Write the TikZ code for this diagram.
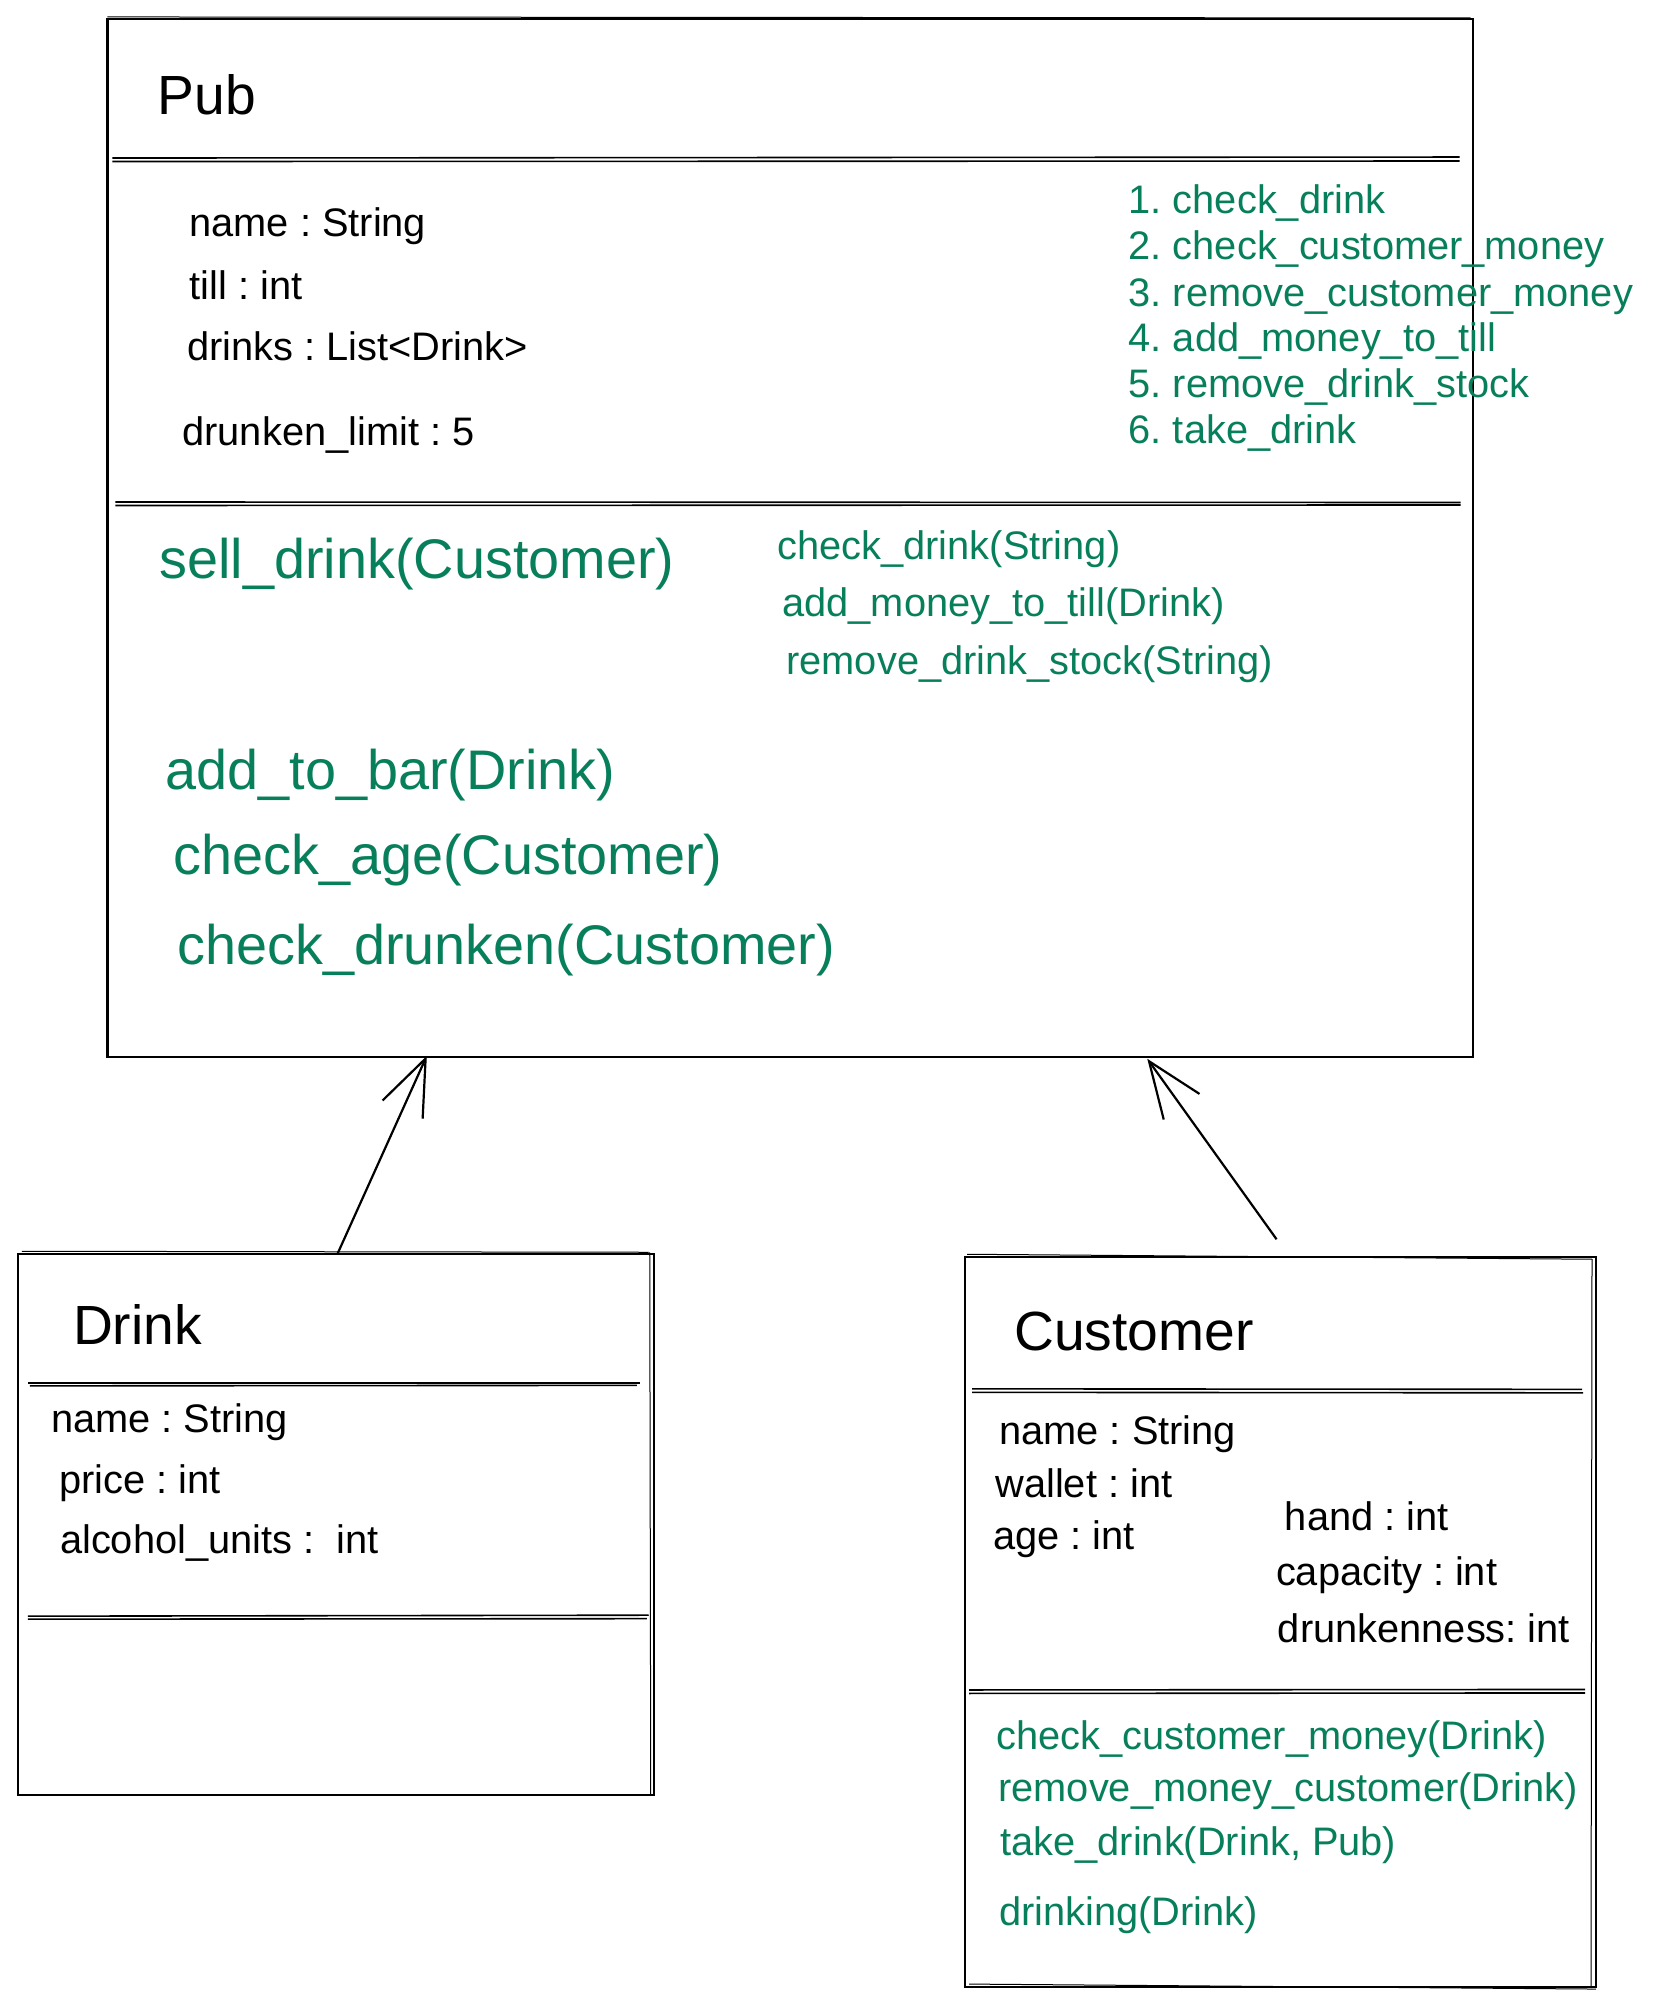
\documentclass[tikz,border=0pt]{standalone}
\usepackage{fontspec}
\setmainfont{Liberation Sans}
\usetikzlibrary{arrows.meta,calc}
\definecolor{meth}{HTML}{087F5B}
\frenchspacing
\begin{document}
\begin{tikzpicture}[x=0.4975pt,y=-0.4985pt,
  box/.style={draw=black, line width=1.1pt, inner sep=0pt, outer sep=0pt},
  sep/.style={line width=0.8pt},
  sketch/.style={line width=0.5pt},
  txt/.style={anchor=base west, inner sep=0pt, font=\fontsize{19.9pt}{23pt}\selectfont},
  grn/.style={txt, text=meth},
  title/.style={anchor=base west, inner sep=0pt, font=\fontsize{27.6pt}{32pt}\selectfont},
  big/.style={anchor=base west, inner sep=0pt, text=meth, font=\fontsize{27.9pt}{32pt}\selectfont},
  assoc/.style={line width=1.1pt, -{Straight Barb[length=28pt,width=22pt,line width=1.1pt]}}
]
\useasboundingbox (0,0) rectangle (1662,2010);

% ---------- boxes ----------
\node[box, anchor=north west, minimum width=682.6pt, minimum height=518.9pt] (pub) at (108,19) {};
\node[box, anchor=north west, minimum width=317.9pt, minimum height=270.2pt] (drink) at (18,1258) {};
\node[box, anchor=north west, minimum width=315.4pt, minimum height=364.9pt] (cust) at (970,1261) {};

% sketchy second strokes
\draw[sketch] (108,17) -- (1478,18);
\draw[sketch] (22,1255) -- (652,1256);
\draw[sketch] (653,1256) -- (654,1801);
\draw[sketch] (972,1258) -- (1600,1263);
\draw[sketch] (1600,1263) -- (1599,1994);
\draw[sketch] (974,1990) -- (1604,1995);

% ---------- separators ----------
\draw[sep] (113,158.5) -- (1467,157.5);
\draw[sep] (113,162) -- (1467,161.5);
\draw[sep] (116,503.5) -- (1468,504);
\draw[sep] (116,507) -- (1468,506.5);
\draw[sep] (28,1387) -- (643,1387);
\draw[sep] (30,1390) -- (640,1389.5);
\draw[sep] (28,1621) -- (652,1620);
\draw[sep] (28,1624) -- (650,1623.5);
\draw[sep] (977,1393) -- (1590,1393.5);
\draw[sep] (977,1396.5) -- (1591,1397);
\draw[sep] (974,1695) -- (1593,1694.5);
\draw[sep] (974,1698.5) -- (1593,1698);

% ---------- Pub ----------
\node[title] (pubt) at (158,115) {Pub};
\node[txt] (pa1) at (190,237) {name : String};
\node[txt] (pa2) at (190,300) {till : int};
\node[txt] (pa3) at (188,362) {drinks : List<Drink>};
\node[txt] (pa4) at (183,447) {drunken\_limit : 5};

\node[grn] (s1) at (1134,214) {1. check\_drink};
\node[grn] (s2) at (1134,260) {2. check\_customer\_money};
\node[grn] (s3) at (1134,307) {3. remove\_customer\_money};
\node[grn] (s4) at (1134,353) {4. add\_money\_to\_till};
\node[grn] (s5) at (1134,399) {5. remove\_drink\_stock};
\node[grn] (s6) at (1134,445) {6. take\_drink};

\node[big] (m1) at (160,580) {sell\_drink(Customer)};
\node[grn] (m1a) at (781,561) {check\_drink(String)};
\node[grn] (m1b) at (786,618) {add\_money\_to\_till(Drink)};
\node[grn] (m1c) at (790,677) {remove\_drink\_stock(String)};
\node[big] (m2) at (166,792) {add\_to\_bar(Drink)};
\node[big] (m3) at (174,877) {check\_age(Customer)};
\node[big] (m4) at (178,967) {check\_drunken(Customer)};

% ---------- Drink ----------
\node[title] (dt) at (73,1349) {Drink};
\node[txt] (da1) at (51,1437) {name : String};
\node[txt] (da2) at (59,1498) {price : int};
\node[txt] (da3) at (60,1558) {alcohol\_units : \ int};

% ---------- Customer ----------
\node[title] (ct) at (1019,1355) {Customer};
\node[txt] (ca1) at (1004,1449) {name : String};
\node[txt] (ca2) at (1000,1502) {wallet : int};
\node[txt] (ca3) at (998,1554) {age : int};
\node[txt] (ca4) at (1291,1535) {hand : int};
\node[txt] (ca5) at (1282,1590) {capacity : int};
\node[txt] (ca6) at (1284,1647) {drunkenness: int};

\node[grn] (cm1) at (1001,1755) {check\_customer\_money(Drink)};
\node[grn] (cm2) at (1003,1807) {remove\_money\_customer(Drink)};
\node[grn] (cm3) at (1005,1861) {take\_drink(Drink, Pub)};
\node[grn] (cm4) at (1004,1931) {drinking(Drink)};

% ---------- connectors ----------
\draw[assoc] ($(drink.north west)+(321,0)$) -- ($(pub.south west)+(321,-1)$);
\draw[assoc] ($(cust.north west)+(313,-18)$) -- ($(pub.south west)+(1045,2)$);
\end{tikzpicture}
\end{document}
